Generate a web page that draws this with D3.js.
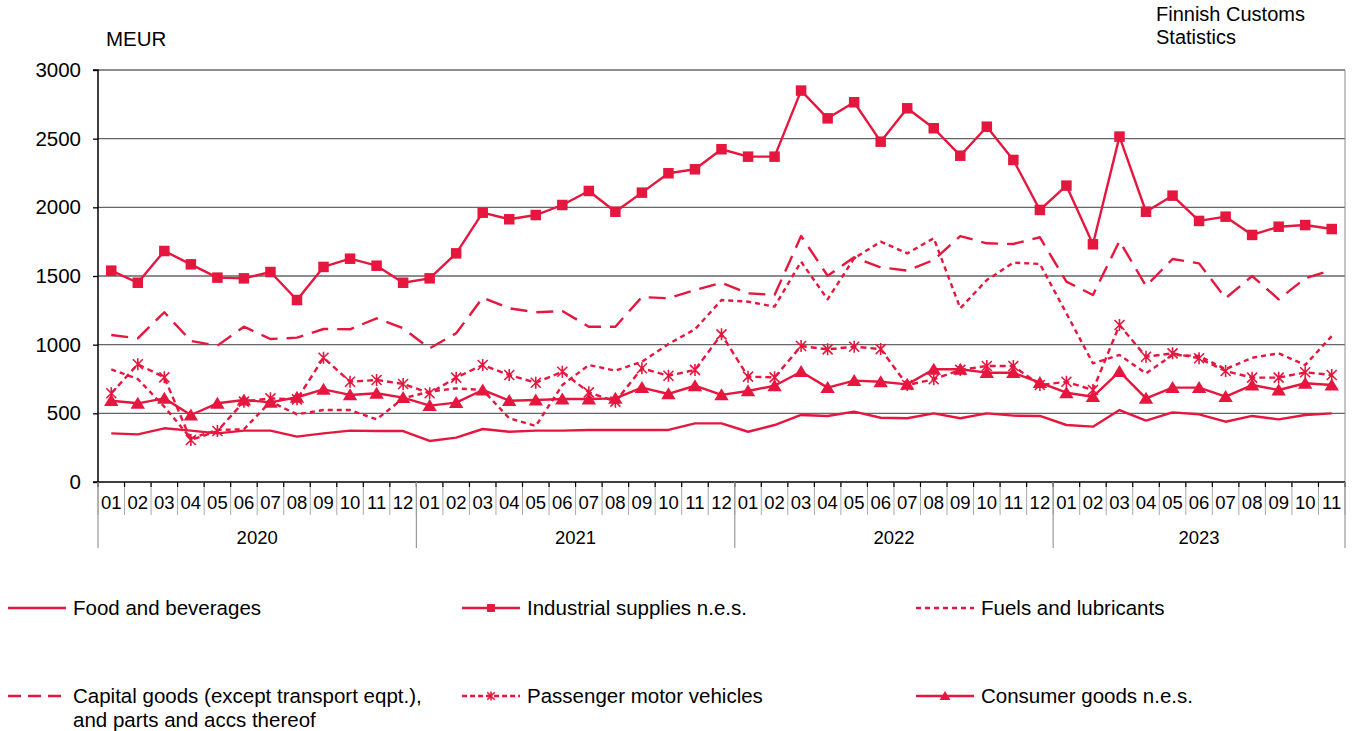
<!DOCTYPE html>
<html>
<head>
<meta charset="utf-8">
<script src="https://cdn.jsdelivr.net/npm/d3@7"></script>
<style>
  body { margin: 0; background: #fff; }
  text { font-family: "Liberation Sans", Arial, sans-serif; fill: #000; }
</style>
</head>
<body>
<div id="chart"></div>
<script>
// Monthly imports by category, MEUR
const years = ["2020", "2021", "2022", "2023"];
const monthLabels = ["01","02","03","04","05","06","07","08","09","10","11","12"];
const monthsInYear = [12, 12, 12, 11];
const yTicks = [0, 500, 1000, 1500, 2000, 2500, 3000];

const food = [354,347,391,374,354,374,374,330,354,374,371,371,
  299,323,386,366,374,374,379,379,379,379,427,427,
  366,415,488,481,512,468,464,500,464,500,483,481,
  415,403,524,447,507,493,439,481,456,488,500];
const industrial = [1539,1451,1682,1585,1488,1483,1529,1325,1566,1626,1575,1451,
  1483,1665,1961,1913,1944,2017,2119,1968,2107,2248,2277,2423,
  2369,2369,2850,2648,2765,2478,2721,2576,2376,2587,2345,1981,
  2158,1731,2515,1968,2085,1901,1932,1799,1859,1871,1842];
const fuels = [820,750,548,318,379,384,585,493,524,524,456,609,
  658,682,670,464,408,706,852,811,876,1005,1112,1325,
  1313,1277,1604,1330,1629,1750,1665,1775,1265,1471,1597,1588,
  1228,864,925,791,925,918,821,905,937,852,1063];
const capital = [1070,1046,1236,1027,993,1131,1041,1051,1114,1112,1192,1119,
  973,1083,1342,1265,1236,1245,1131,1131,1347,1338,1398,1451,
  1374,1362,1791,1502,1636,1563,1539,1617,1791,1738,1733,1782,
  1459,1362,1755,1427,1624,1592,1338,1500,1330,1483,1544];
const passenger = [646,857,762,306,371,585,609,602,905,730,743,714,
  646,760,852,779,723,803,653,585,828,774,816,1075,
  767,762,990,966,985,968,706,748,816,845,845,706,
  730,670,1143,912,937,901,808,760,760,799,779];
const consumer = [592,573,609,488,573,597,580,617,675,634,646,614,
  556,578,670,592,597,604,604,609,687,641,701,634,
  663,701,803,687,738,730,711,821,821,796,796,723,
  650,621,803,609,687,687,621,706,670,719,706];

const RED = "#e5173f";

const series = [
  {name: ["Food and beverages"], values: food, dash: null, legendDash: null, marker: null},
  {name: ["Industrial supplies n.e.s."], values: industrial, dash: null, legendDash: null, marker: "square"},
  {name: ["Fuels and lubricants"], values: fuels, dash: "5,4", legendDash: "5,4", marker: null},
  {name: ["Capital goods (except transport eqpt.),", "and parts and accs thereof"], values: capital, dash: "17,9", legendDash: "13,7", marker: null},
  {name: ["Passenger motor vehicles"], values: passenger, dash: "6,4", legendDash: "5,3", marker: "star"},
  {name: ["Consumer goods n.e.s."], values: consumer, dash: null, legendDash: null, marker: "triangle"}
];

// month index -> label, year
const months = [];
years.forEach((yr, yi) => {
  for (let m = 0; m < monthsInYear[yi]; m++) months.push({year: yr, label: monthLabels[m]});
});

const width = 1355, height = 731;
const margin = {left: 98, top: 70};
const plotRight = 1345, plotBottom = 482;

const svg = d3.select("#chart").append("svg")
  .attr("width", width).attr("height", height);

const x = d3.scaleBand()
  .domain(d3.range(months.length))
  .range([margin.left, plotRight])
  .paddingInner(0).paddingOuter(0);

const y = d3.scaleLinear()
  .domain([0, 3000])
  .range([plotBottom, margin.top]);

const cx = i => x(i) + x.bandwidth() / 2;

// grid lines
svg.append("g")
  .selectAll("line")
  .data(yTicks.filter(d => d > 0))
  .enter().append("line")
  .attr("x1", margin.left).attr("x2", plotRight)
  .attr("y1", d => y(d)).attr("y2", d => y(d))
  .attr("stroke", "#666").attr("stroke-width", 1.3);

// right border
svg.append("line")
  .attr("x1", plotRight).attr("x2", plotRight)
  .attr("y1", margin.top).attr("y2", plotBottom)
  .attr("stroke", "#888").attr("stroke-width", 1);

// y axis
const yAxis = d3.axisLeft(y).tickValues(yTicks).tickFormat(d3.format("d")).tickSize(5).tickPadding(12);
const gy = svg.append("g").attr("transform", `translate(${margin.left},0)`).call(yAxis);
gy.select(".domain").attr("stroke", "#000").attr("stroke-width", 1.5).attr("d", `M-5,${margin.top}H0V${plotBottom}H-5`);
gy.selectAll(".tick line").attr("stroke", "#000").attr("stroke-width", 1.3);
gy.selectAll(".tick text").style("font-size", "20.5px").style("font-family", "Liberation Sans, Arial, sans-serif").attr("fill", "#000");

// x axis: months row
const gx = svg.append("g");
gx.append("line")
  .attr("x1", margin.left).attr("x2", plotRight)
  .attr("y1", plotBottom).attr("y2", plotBottom)
  .attr("stroke", "#000").attr("stroke-width", 1.5);

const boundaries = d3.range(months.length + 1).map(i => i < months.length ? x(i) : plotRight);
gx.selectAll("line.mdiv")
  .data(boundaries)
  .enter().append("line")
  .attr("class", "mdiv")
  .attr("x1", d => d).attr("x2", d => d)
  .attr("y1", plotBottom).attr("y2", plotBottom + 33)
  .attr("stroke", "#aaa").attr("stroke-width", 1);
gx.selectAll("line.mtick")
  .data(boundaries)
  .enter().append("line")
  .attr("class", "mtick")
  .attr("x1", d => d).attr("x2", d => d)
  .attr("y1", plotBottom).attr("y2", plotBottom + 5)
  .attr("stroke", "#000").attr("stroke-width", 1.2);

gx.selectAll("text.month")
  .data(months)
  .enter().append("text")
  .attr("class", "month")
  .attr("x", (d, i) => cx(i))
  .attr("y", plotBottom + 27)
  .attr("text-anchor", "middle")
  .style("font-size", "18.5px")
  .text(d => d.label);

// year groups
let start = 0;
const yearSpans = years.map((yr, yi) => {
  const s = {year: yr, x0: x(start), x1: start + monthsInYear[yi] < months.length ? x(start + monthsInYear[yi]) : plotRight};
  start += monthsInYear[yi];
  return s;
});
gx.selectAll("line.ydiv")
  .data(yearSpans.map(d => d.x0).concat([plotRight]))
  .enter().append("line")
  .attr("class", "ydiv")
  .attr("x1", d => d).attr("x2", d => d)
  .attr("y1", plotBottom).attr("y2", plotBottom + 66)
  .attr("stroke", "#999").attr("stroke-width", 1.2);
gx.selectAll("text.year")
  .data(yearSpans)
  .enter().append("text")
  .attr("class", "year")
  .attr("x", d => (d.x0 + d.x1) / 2)
  .attr("y", plotBottom + 62)
  .attr("text-anchor", "middle")
  .style("font-size", "18.5px")
  .text(d => d.year);

// titles
svg.append("text").attr("x", 106).attr("y", 46).style("font-size", "20.5px").text("MEUR");
svg.append("text").attr("x", 1156).attr("y", 20.5).style("font-size", "20px").text("Finnish Customs");
svg.append("text").attr("x", 1156).attr("y", 43.5).style("font-size", "20px").text("Statistics");

// markers
const markerDraw = {
  square: (g, s) => g.append("rect").attr("x", -s / 2).attr("y", -s / 2).attr("width", s).attr("height", s).attr("fill", RED),
  triangle: (g, s) => g.append("path").attr("d", `M0,${-s * 0.55}L${s * 0.6},${s * 0.45}L${-s * 0.6},${s * 0.45}Z`).attr("fill", RED),
  star: (g, s) => g.append("path").attr("d", `M${-s/2},${-s/2}L${s/2},${s/2}M${-s/2},${s/2}L${s/2},${-s/2}M0,${-s*0.6}L0,${s*0.6}`)
    .attr("stroke", RED).attr("stroke-width", 1.6).attr("fill", "none")
};
const markerSize = {square: 10.5, triangle: 12, star: 10};

const line = d3.line().x((d, i) => cx(i)).y(d => y(d));

const plot = svg.append("g");
series.forEach(s => {
  plot.append("path")
    .datum(s.values)
    .attr("d", line)
    .attr("fill", "none")
    .attr("stroke", RED)
    .attr("stroke-width", 2.4)
    .attr("stroke-linejoin", "round")
    .attr("stroke-dasharray", s.dash);
  if (s.marker) {
    plot.append("g").selectAll("g")
      .data(s.values)
      .enter().append("g")
      .attr("transform", (d, i) => `translate(${cx(i)},${y(d)})`)
      .each(function () { markerDraw[s.marker](d3.select(this), markerSize[s.marker]); });
  }
});

// legend: 3 columns, 2 rows
const legendCols = [8, 462, 916];
const legendRows = [608, 696];
const legend = svg.append("g");
series.forEach((s, i) => {
  const lx = legendCols[i % 3], ly = legendRows[Math.floor(i / 3)];
  const g = legend.append("g").attr("transform", `translate(${lx},${ly})`);
  g.append("line").attr("x1", 0).attr("x2", 58).attr("y1", 0).attr("y2", 0)
    .attr("stroke", RED).attr("stroke-width", 2.4)
    .attr("stroke-dasharray", s.legendDash);
  if (s.marker) {
    const m = g.append("g").attr("transform", "translate(29,0)");
    markerDraw[s.marker](m, markerSize[s.marker] * 0.75);
  }
  s.name.forEach((t, k) => {
    g.append("text").attr("x", 65).attr("y", 7 + k * 24).style("font-size", "20.5px").text(t);
  });
});
</script>
</body>
</html>
